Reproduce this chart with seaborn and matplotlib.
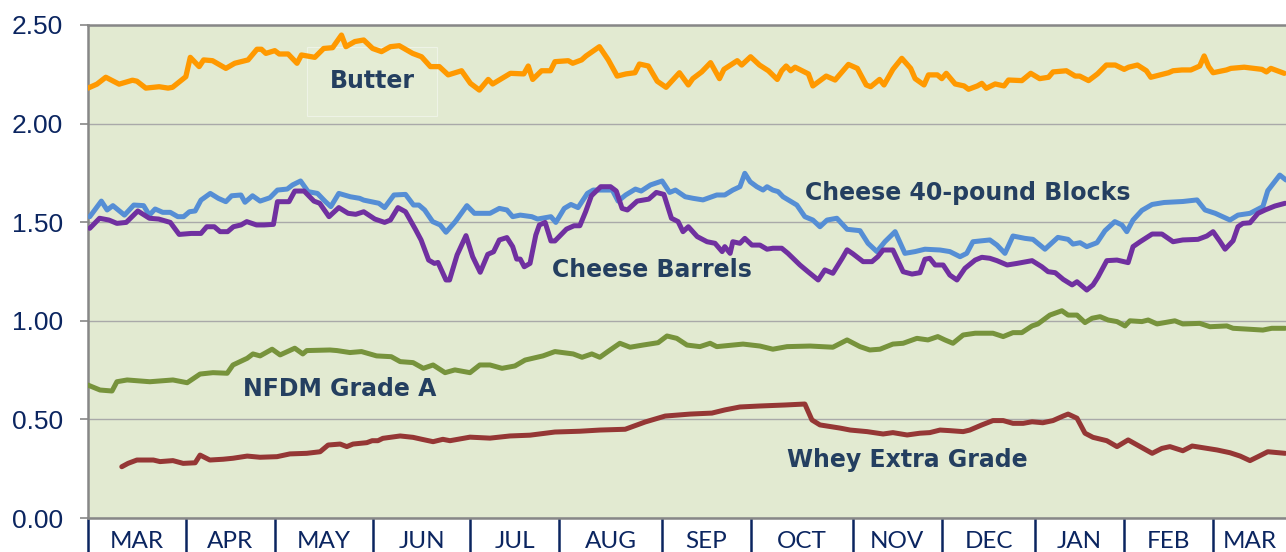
import matplotlib
matplotlib.use("Agg")
import matplotlib.pyplot as plt
import seaborn as sns
import pandas as pd

# ---------------- data (x = trading-day index from start of March) ----------------
months = ["MAR", "APR", "MAY", "JUN", "JUL", "AUG", "SEP", "OCT", "NOV", "DEC", "JAN", "FEB", "MAR"]
month_bounds = [0, 22, 42, 64, 86, 106, 129, 149, 172, 192, 213, 233, 253]
x_end = 269.4

yticks = [0.0, 0.5, 1.0, 1.5, 2.0, 2.5]

butter = [(0,2.18),(2,2.20),(4,2.235),(7,2.20),(10,2.22),(11,2.215),(13,2.18),(16,2.187),(18,2.18),(19,2.184),
          (21,2.22),(22,2.238),(23,2.336),(25,2.289),(26,2.323),(28,2.319),(31,2.28),(33,2.306),(36,2.323),(38,2.377),
          (39,2.377),(40,2.356),(42,2.37),(43,2.353),(45,2.353),(47,2.306),(48,2.348),(51,2.336),(53,2.381),(55,2.385),
          (57,2.449),(58,2.39),(60,2.416),(62,2.424),(64,2.381),(66,2.365),(68,2.39),(70,2.395),(73,2.356),(75,2.339),
          (77,2.289),(79,2.289),(81,2.247),(84,2.268),(86,2.204),(88,2.17),(90,2.224),(91,2.201),(95,2.255),(98,2.252),
          (99,2.292),(100,2.224),(102,2.268),(104,2.268),(105,2.314),(108,2.319),(109,2.306),(111,2.323),(112,2.343),(115,2.39),
          (117,2.323),(119,2.241),(121,2.252),(123,2.258),(124,2.302),(126,2.292),(128,2.215),(130,2.184),(133,2.258),(135,2.196),
          (136,2.228),(138,2.262),(140,2.309),(142,2.228),(143,2.275),(146,2.319),(147,2.297),(149,2.339),(151,2.297),(153,2.268),
          (155,2.224),(156,2.268),(157,2.292),(158,2.268),(159,2.286),(162,2.252),(163,2.191),(166,2.241),(168,2.221),(171,2.30),
          (173,2.28),(175,2.196),(176,2.187),(178,2.224),(179,2.196),(181,2.275),(183,2.331),(185,2.28),(186,2.228),(188,2.196),
          (189,2.247),(191,2.247),(192,2.228),(193,2.255),(195,2.201),(197,2.191),(198,2.174),(200,2.191),(201,2.204),(202,2.179),
          (204,2.201),(206,2.191),(207,2.221),(210,2.218),(212,2.255),(214,2.228),(216,2.235),(217,2.262),(220,2.268),(222,2.241),
          (223,2.241),(225,2.218),(227,2.252),(229,2.297),(231,2.297),(233,2.275),(234,2.286),(236,2.297),(238,2.268),(239,2.235),
          (242,2.252),(243,2.258),(244,2.268),(246,2.272),(248,2.272),(250,2.292),(251,2.343),(252,2.289),(253,2.258),(256,2.272),
          (257,2.28),(260,2.286),(264,2.275),(265,2.262),(266,2.28),(269,2.255)]

blocks = [(0.4,1.528),(3,1.607),(4.3,1.562),(5.6,1.584),(8.2,1.536),(10.3,1.587),(12.5,1.584),(13.8,1.536),(15.1,1.567),
          (16.8,1.55),(18.5,1.55),(20.2,1.528),(21.5,1.528),(22.8,1.553),(24.1,1.557),(25.4,1.612),(27.5,1.646),(29.3,1.621),
          (31,1.604),(32.3,1.634),(34.4,1.638),(35.3,1.601),(37,1.634),(38.7,1.607),(40.9,1.624),(42.6,1.663),(44.8,1.668),
          (46,1.689),(47.8,1.709),(49.5,1.655),(51.6,1.646),(53.4,1.604),(54.6,1.579),(56.4,1.646),(59,1.629),(61.1,1.621),
          (62,1.612),(65.4,1.596),(66.7,1.574),(68.8,1.638),(71.4,1.641),(73.2,1.587),(74.4,1.587),(75.7,1.562),(77.5,1.503),
          (79.2,1.486),(80.5,1.449),(82.6,1.503),(85.2,1.584),(86.9,1.545),(90.4,1.545),(92.5,1.57),(94.2,1.562),(95.5,1.528),
          (97.2,1.536),(99.8,1.528),(101.1,1.516),(104.1,1.528),(105.2,1.499),(107.1,1.57),(108.6,1.59),(110.2,1.574),(112.3,1.646),
          (113.6,1.663),(117.9,1.663),(119.2,1.607),(120.9,1.638),(123.1,1.668),(124.4,1.658),(126.5,1.689),(129.1,1.709),(130.8,1.651),
          (132.1,1.663),(134.3,1.629),(136.1,1.621),(138.3,1.613),(141.4,1.638),(143.2,1.638),(145,1.663),(146.6,1.68),(147.7,1.748),
          (148.9,1.705),(150.4,1.68),(151.8,1.663),(152.7,1.68),(154,1.663),(155.2,1.655),(156.3,1.629),(159.4,1.587),(161.2,1.528),
          (163,1.511),(164.6,1.477),(166.2,1.511),(168.4,1.52),(170.7,1.464),(173.6,1.457),(175.4,1.393),(177.4,1.351),(179.2,1.401),
          (181.5,1.452),(183.7,1.342),(186,1.351),(188.2,1.363),(191.6,1.359),(193.8,1.351),(196.1,1.325),(197.6,1.342),(199,1.401),
          (202.8,1.41),(204.4,1.384),(206.2,1.342),(208,1.43),(210.7,1.418),(212.5,1.413),(215.2,1.363),(218.1,1.423),(220.4,1.413),
          (221.5,1.389),(223.1,1.396),(224.6,1.376),(226.9,1.396),(228.7,1.457),(230.9,1.503),(232.5,1.486),(233.6,1.452),(235,1.511),
          (237,1.56),(239.3,1.59),(242,1.60),(246.2,1.605),(249.4,1.613),(251.2,1.562),(253.5,1.545),(256.8,1.511),(258.6,1.536),
          (261.3,1.545),(264.2,1.579),(265.3,1.66),(268,1.739),(269.4,1.714)]

barrels = [(0.4,1.469),(2.6,1.52),(4.7,1.511),(6.5,1.494),(8.6,1.499),(11.2,1.557),(13.8,1.52),(15.9,1.516),(18.5,1.499),
           (20.5,1.438),(23.2,1.443),(25.4,1.443),(26.7,1.477),(28.4,1.477),(29.7,1.452),(31.4,1.452),(32.7,1.477),(34.4,1.486),
           (35.7,1.503),(37.9,1.486),(39.6,1.486),(41.7,1.489),(42.6,1.604),(45.2,1.604),(46.5,1.658),(48.6,1.658),(50.8,1.607),
           (52.1,1.596),(54.2,1.528),(56.4,1.574),(58.5,1.545),(60.2,1.54),(62,1.553),(64.5,1.516),(66.7,1.499),(68,1.511),
           (69.7,1.574),(71.4,1.553),(73.6,1.465),(74.9,1.41),(76.6,1.308),(77.9,1.291),(78.7,1.296),(80.5,1.207),(81.3,1.207),
           (83,1.334),(85,1.432),(86.5,1.325),(88.2,1.246),(89.9,1.337),(91.2,1.35),(92.5,1.41),(94.2,1.422),(95.5,1.376),
           (96.4,1.313),(97.2,1.313),(98.1,1.274),(99.4,1.291),(100.7,1.435),(101.5,1.486),(102.8,1.499),(104.1,1.405),(105,1.405),
           (107.6,1.465),(109.3,1.482),(110.6,1.482),(111.9,1.553),(113.2,1.634),(115.3,1.68),(117.5,1.68),(118.8,1.658),(120.1,1.57),
           (121.3,1.562),(123.5,1.607),(126.1,1.617),(127.8,1.651),(129.5,1.641),(131.2,1.52),(132.7,1.503),(133.8,1.452),(135,1.477),
           (137,1.427),(139.2,1.401),(141,1.393),(142.6,1.351),(143.2,1.376),(144.4,1.342),(145,1.401),(146.6,1.393),(147.7,1.418),
           (149.3,1.384),(151.1,1.384),(152.7,1.363),(154,1.368),(156,1.368),(157.4,1.342),(160.1,1.283),(161.9,1.249),(164.2,1.207),
           (165.7,1.258),(167.5,1.241),(169.6,1.317),(170.7,1.36),(172,1.34),(174.3,1.30),(176.3,1.30),(177.6,1.325),(178.8,1.359),
           (181,1.359),(183.3,1.249),(185.3,1.237),(187.1,1.244),(188.2,1.312),(189.3,1.317),(190.5,1.283),(192.3,1.283),(193.8,1.232),
           (195.4,1.207),(197.2,1.266),(199.5,1.308),(201,1.322),(202.8,1.317),(204.4,1.305),(206.7,1.283),(208.9,1.291),(212.3,1.305),
           (214.5,1.274),(215.9,1.249),(217.5,1.244),(219.3,1.21),(221.3,1.182),(222.4,1.198),(224.6,1.156),(226,1.182),(227.1,1.221),
           (229.1,1.305),(231.4,1.308),(233.9,1.295),(235,1.376),(236.6,1.401),(239.3,1.44),(241.5,1.44),(244,1.401),(246.2,1.41),
           (249.6,1.413),(251.6,1.43),(253,1.452),(254.6,1.401),(255.7,1.363),(257.5,1.406),(258.6,1.477),(259.7,1.494),(261.3,1.497),
           (263.1,1.545),(264.7,1.562),(266.9,1.582),(269.2,1.596)]

nfdm = [(0,0.674),(2.7,0.649),(5.4,0.644),(6.5,0.691),(8.8,0.70),(13.9,0.691),(19.1,0.70),(22.3,0.686),(25.2,0.73),
        (28.1,0.737),(31.3,0.734),(32.6,0.776),(35.8,0.81),(37.1,0.832),(38.7,0.822),(41.4,0.856),(43.2,0.827),(46.5,0.861),
        (48.3,0.832),(49.2,0.849),(54.4,0.852),(56,0.849),(58.9,0.839),(61.5,0.844),(64.9,0.822),(68.2,0.818),(70.2,0.793),
        (73.1,0.788),(75.4,0.759),(77.6,0.776),(80.3,0.737),(82.5,0.751),(85.9,0.737),(88.1,0.776),(90.4,0.776),(93.1,0.759),
        (96,0.771),(98.3,0.801),(102.3,0.822),(105,0.844),(109.1,0.832),(111.1,0.815),(113.3,0.832),(115.1,0.815),(116.9,0.844),
        (119.6,0.886),(121.9,0.866),(124.8,0.877),(128.2,0.889),(130.2,0.923),(132.4,0.911),(134.7,0.877),(137.6,0.869),(139.9,0.886),
        (141.4,0.869),(147.3,0.882),(151.1,0.872),(154,0.856),(157.2,0.869),(162.4,0.872),(167.5,0.866),(170.7,0.903),(173.6,0.869),
        (175.8,0.852),(178.1,0.856),(181,0.882),(183.3,0.886),(186.4,0.911),(188.9,0.903),(191.1,0.92),(192.7,0.903),(194.5,0.886),
        (196.8,0.928),(199.5,0.937),(203.5,0.937),(205.8,0.92),(208,0.94),(210,0.94),(212.3,0.974),(213.6,0.984),(216.3,1.029),
        (219,1.051),(220.4,1.029),(222.4,1.029),(224.2,0.991),(225.8,1.013),(227.6,1.021),(229.4,1.004),(231.4,0.996),(233.2,0.974),
        (234.3,1.0),(237,0.996),(238.4,1.004),(240.4,0.984),(244.4,1.0),(246.2,0.984),(250,0.987),(252.3,0.97),(256.1,0.974),
        (257.5,0.962),(261.3,0.957),(264.2,0.953),(266.2,0.962),(269.2,0.962)]

whey = [(7.6,0.26),(9,0.277),(11,0.294),(14.7,0.294),(16.2,0.286),(19.1,0.291),(21.4,0.277),(24.1,0.28),(25.2,0.319),
        (27.4,0.294),(30.4,0.298),(32.6,0.303),(35.8,0.314),(38.7,0.308),(42.5,0.311),(45.4,0.325),(49.2,0.328),(52.2,0.336),
        (54,0.37),(56.7,0.375),(58.2,0.362),(59.6,0.375),(62.7,0.382),(63.9,0.392),(65.2,0.392),(66.3,0.404),(70.2,0.416),
        (73.1,0.409),(75.1,0.399),(77.6,0.387),(79.8,0.399),(81.4,0.392),(85.9,0.41),(90.4,0.405),(94.9,0.416),(99.4,0.42),
        (105,0.436),(110.6,0.44),(115.1,0.446),(120.8,0.45),(125.3,0.487),(129.8,0.517),(135.4,0.527),(140.3,0.532),(143.2,0.548),
        (146.6,0.563),(151.1,0.568),(156.7,0.573),(161.2,0.578),(162.8,0.497),(164.6,0.472),(169.1,0.456),(171.4,0.446),(175.2,0.438),
        (178.8,0.426),(181,0.433),(184.2,0.421),(187.1,0.43),(189.3,0.433),(191.6,0.446),(193.8,0.443),(196.8,0.438),(198.3,0.446),
        (201,0.472),(203.5,0.494),(205.8,0.494),(208,0.48),(210.3,0.48),(212.3,0.488),(214.7,0.483),(217,0.494),(219.3,0.517),
        (220.4,0.527),(222.4,0.506),(224.2,0.43),(226,0.409),(229.1,0.392),(231.4,0.362),(233.9,0.396),(236.6,0.362),(239.3,0.328),
        (241.5,0.353),(243.3,0.362),(246.2,0.341),(248.3,0.365),(250,0.359),(253.9,0.345),(256.8,0.331),(259.1,0.314),(261.3,0.291),
        (263.1,0.311),(265.3,0.336),(269.2,0.328)]

labels = ["Whey Extra Grade", "NFDM Grade A", "Cheese 40-pound Blocks", "Cheese Barrels", "Butter"]

# ---------------- style ----------------
sns.set_style("white")
plt.rcParams['font.family'] = ['Liberation Sans', 'DejaVu Sans']

NAVY = "#0B2560"
LABEL = "#243F60"
GRAY = "#878787"

fig = plt.figure(figsize=(12.86, 5.52), dpi=100)
ax = fig.add_axes([88 / 1286, 1 - 518 / 552, 1 - 88 / 1286, (518 - 25) / 552])
ax.set_facecolor("#E2EAD1")

colors = ["#953735", "#77933C", "#558ED5", "#7030A0", "#FF9900"]
widths = [3.6, 3.6, 3.6, 3.6, 3.8]
for name, pts, col, lw in zip(labels, [whey, nfdm, blocks, barrels, butter], colors, widths):
    df = pd.DataFrame(pts, columns=["day", "price"])
    sns.lineplot(data=df, x="day", y="price", ax=ax, color=col, lw=lw,
                 estimator=None, sort=False, zorder=3, legend=False)

ax.set_xlim(0, x_end)
ax.set_ylim(yticks[0], yticks[-1])
ax.set_xlabel("")
ax.set_ylabel("")

# y axis
ax.set_yticks(yticks)
ax.set_yticklabels([f"{v:.2f}" for v in yticks])
ax.tick_params(axis="y", which="major", length=6, width=1.2, color=GRAY, pad=12,
               labelsize=19, labelcolor=NAVY, direction="out", left=True)
ax.yaxis.grid(True, color="#A9A9A9", lw=1.0)
ax.xaxis.grid(False)
ax.set_axisbelow(True)

# x axis: month separators (major) and centred month names (minor)
ax.set_xticks(month_bounds)
ax.set_xticklabels([""] * len(month_bounds))
ax.tick_params(axis="x", which="major", length=26, width=1.8, color=NAVY, direction="out", bottom=True)
mids = [(a + b) / 2 for a, b in zip(month_bounds, month_bounds[1:] + [x_end])]
ax.set_xticks(mids, minor=True)
ax.set_xticklabels(months, minor=True, fontfamily="Lato", fontsize=17.5, color=NAVY)
ax.tick_params(axis="x", which="minor", length=0, pad=9, bottom=True)

for side in ["left", "top", "bottom"]:
    ax.spines[side].set_color(GRAY)
    ax.spines[side].set_linewidth(1.8)
ax.spines["right"].set_visible(False)

# series labels
tk = dict(color=LABEL, fontsize=17, fontweight="bold", fontfamily="DejaVu Sans",
          ha="center", va="center", zorder=4)
ax.text(63.9, 2.215, "Butter", zorder=2.5, color=LABEL, fontsize=17, fontweight="bold",
        fontfamily="DejaVu Sans", ha="center", va="center",
        bbox=dict(boxstyle="square,pad=0.95", fc="#E4ECD4", ec="#EEF3E6", lw=0.8))
ax.text(197.9, 1.648, labels[2], **tk)
ax.text(126.8, 1.258, labels[3], **tk)
ax.text(56.7, 0.652, labels[1], **tk)
ax.text(184.2, 0.296, labels[0], **tk)

fig.savefig("out.png", dpi=100)
